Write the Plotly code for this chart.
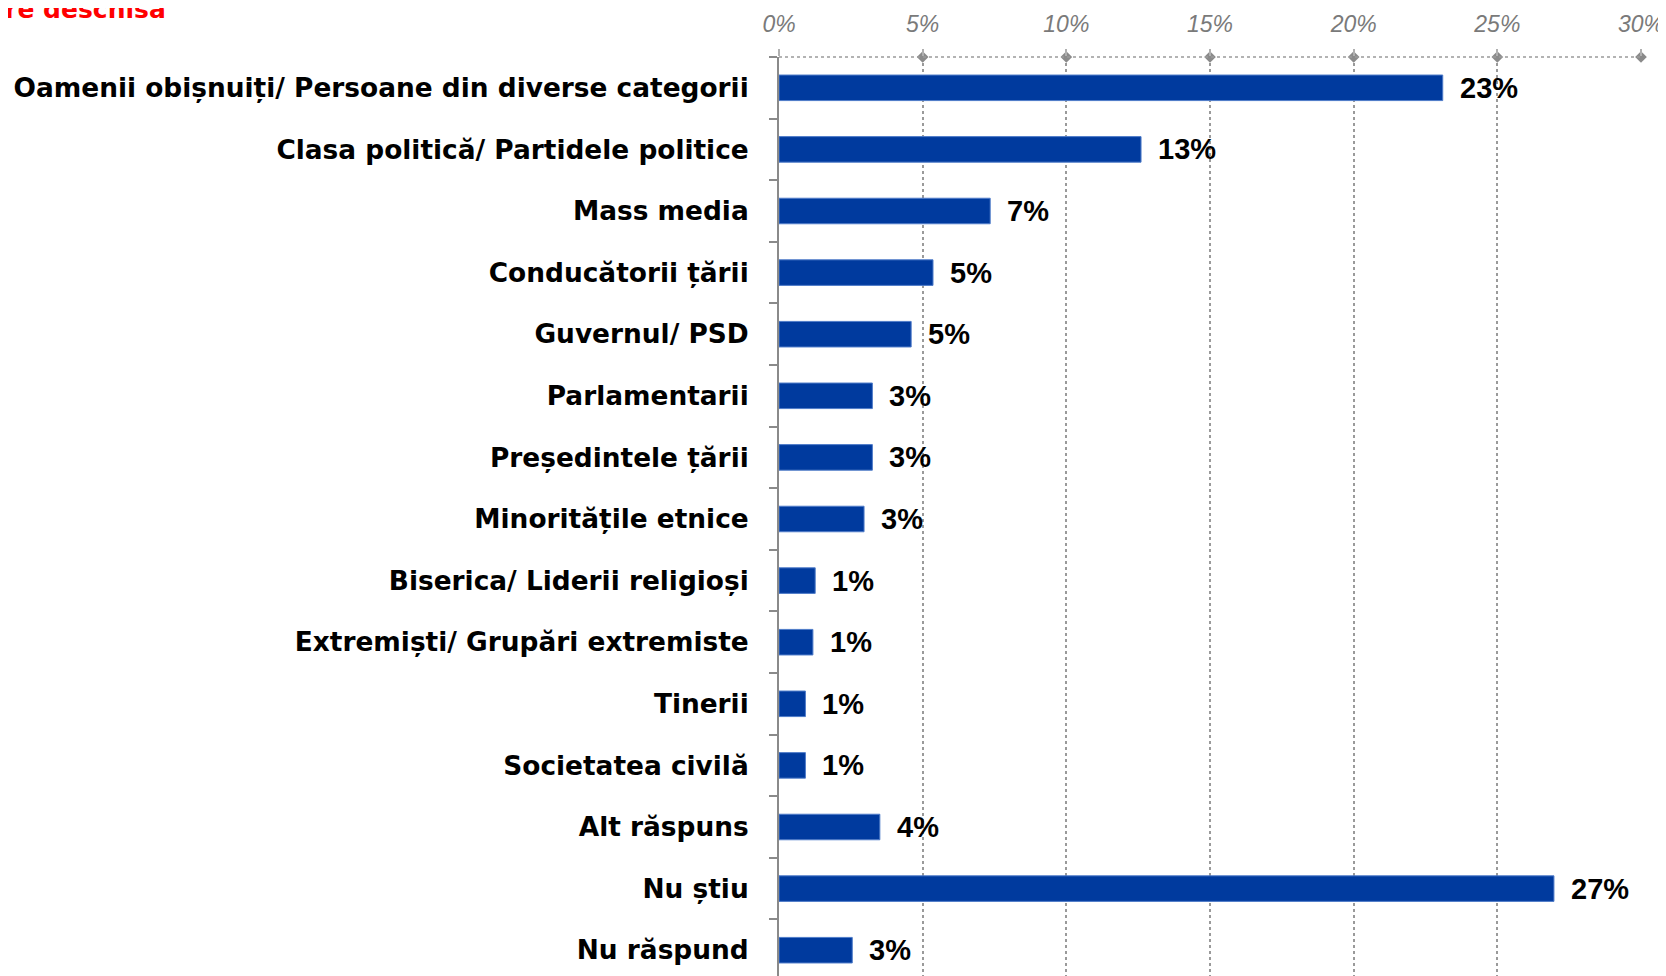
import plotly.graph_objects as go

# categories (top to bottom) and shares in percent
categorii = [
    "Oamenii obișnuiți/ Persoane din diverse categorii",
    "Clasa politică/ Partidele politice",
    "Mass media",
    "Conducătorii țării",
    "Guvernul/ PSD",
    "Parlamentarii",
    "Președintele țării",
    "Minoritățile etnice",
    "Biserica/ Liderii religioși",
    "Extremiști/ Grupări extremiste",
    "Tinerii",
    "Societatea civilă",
    "Alt răspuns",
    "Nu știu",
    "Nu răspund",
]
procente = [23.1, 12.6, 7.35, 5.36, 4.6, 3.25, 3.25, 2.96, 1.26, 1.18, 0.92, 0.92, 3.51, 26.97, 2.55]
etichete = ["23%", "13%", "7%", "5%", "5%", "3%", "3%", "3%", "1%", "1%", "1%", "1%", "4%", "27%", "3%"]
x_ticks = [0, 5, 10, 15, 20, 25, 30]
x_ticktext = ["0%", "5%", "10%", "15%", "20%", "25%", "30%"]

fig = go.Figure()

# bars
fig.add_trace(go.Bar(
    x=procente, y=categorii, orientation="h",
    marker=dict(color="#003A9E", line=dict(color="#4F7CC9", width=1)),
    hoverinfo="x+y", showlegend=False,
))

# diamonds sitting on the top axis at each tick
fig.add_trace(go.Scatter(
    x=x_ticks[1:], y=[1] * (len(x_ticks) - 1), yaxis="y2",
    mode="markers", marker=dict(symbol="diamond", size=9, color="#8a8a8a"),
    cliponaxis=False, showlegend=False, hoverinfo="skip",
))

# value labels to the right of the bars
for v, c, t in zip(procente, categorii, etichete):
    fig.add_annotation(
        x=v, y=c, text=t, showarrow=False, xanchor="left", yanchor="middle",
        xshift=15, font=dict(family="Liberation Sans, Arial, sans-serif", size=29,
                             color="#000000", weight="bold"),
    )

# layout numbers (page has an 8px body margin)
L, T, R, B, W, H = 771, 49, 33, 3, 1666, 976
plot_w = W - L - R
plot_h = H - T - B

# partially visible header in red
fig.add_annotation(
    text="Întrebare deschisa", xref="paper", yref="paper",
    x=(160 - L) / plot_w, y=1 + (T - 2) / plot_h, xanchor="right", yanchor="middle",
    showarrow=False, font=dict(family="DejaVu Sans", size=25, color="#ff0000", weight="bold"),
)

# dotted top axis line
fig.add_shape(type="line", xref="paper", yref="paper", x0=0, x1=1, y0=1, y1=1,
              line=dict(color="#9a9a9a", width=1.5, dash="dot"), layer="above")

fig.update_layout(
    width=W, height=H,
    margin=dict(l=L, r=R, t=T, b=B, autoexpand=False),
    plot_bgcolor="white", paper_bgcolor="white",
    bargap=0.585,
    xaxis=dict(
        side="top", range=[0, 30], tickvals=x_ticks, ticktext=x_ticktext,
        showgrid=True, gridcolor="#9a9a9a", gridwidth=1.5, griddash="dot",
        zeroline=False, showline=False,
        ticks="outside", ticklen=7, tickcolor="#b0b0b0", tickwidth=1.5,
        ticklabelstandoff=8,
        tickfont=dict(family="Liberation Sans, Arial, sans-serif", size=23,
                      color="#7a7a7a", style="italic"),
    ),
    yaxis=dict(
        type="category", autorange="reversed",
        tickson="boundaries", ticks="outside", ticklen=8, tickwidth=2, tickcolor="#8a8a8a",
        showline=True, linecolor="#8a8a8a", linewidth=2,
        showgrid=False, zeroline=False,
        ticklabelstandoff=23,
        tickfont=dict(family="DejaVu Sans", size=26.4, color="#000000", weight="bold"),
    ),
    yaxis2=dict(overlaying="y", range=[0, 1], visible=False),
)

fig.write_html("out.html")
